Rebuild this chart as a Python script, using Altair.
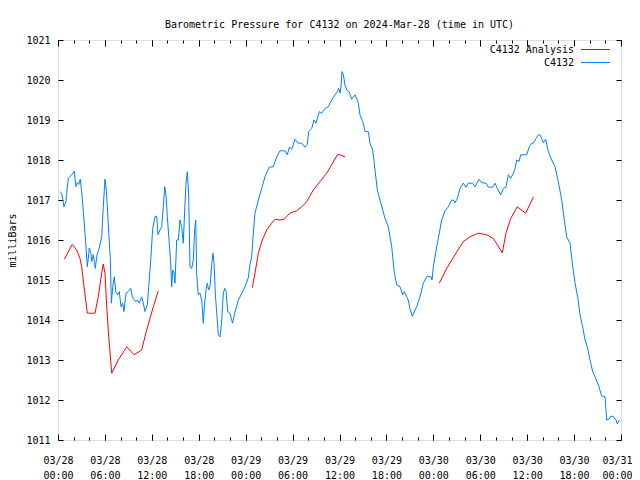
import altair as alt
import pandas as pd

# ---- data (hours after 2024-03-28 00:00 UTC, pressure in mb) ----
station_hours = [0.26, 0.47, 0.77, 1.02, 1.11, 1.32, 1.75, 2.08, 2.30, 2.47, 2.65, 2.85, 3.03, 3.24, 3.49,
                 3.75, 3.88, 4.00, 4.22, 4.31, 4.51, 4.77, 4.99, 5.28, 5.59, 5.79, 6.01, 6.14, 6.31, 6.52,
                 6.69, 6.82, 7.00, 7.20, 7.38, 7.64, 7.84, 8.06, 8.27, 8.44, 8.70, 8.99, 9.30, 9.50, 9.72,
                 9.98, 10.14, 10.40, 10.70, 10.91, 11.13, 11.42, 11.64, 11.86, 12.11, 12.41, 12.62, 12.79,
                 13.04, 13.26, 13.47, 13.65, 13.81, 13.98, 14.20, 14.41, 14.54, 14.67, 14.84, 14.96, 15.18,
                 15.39, 15.60, 15.82, 16.02, 16.20, 16.37, 16.54, 16.72, 16.88, 17.10, 17.30, 17.48, 17.61,
                 17.74, 17.94, 18.16, 18.38, 18.58, 18.71, 18.93, 19.09, 19.27, 19.44, 19.66, 19.82, 19.95,
                 20.12, 20.30, 20.50, 20.72, 20.94, 21.14, 21.32, 21.49, 21.70, 22.00, 22.32, 22.64, 23.06,
                 23.28, 23.49, 23.92, 24.34, 24.56, 24.77, 24.98, 25.19, 25.62, 26.05, 26.47, 27.02, 27.53,
                 27.97, 28.39, 29.03, 29.33, 29.58, 29.89, 30.31, 30.73, 31.17, 31.59, 31.88, 32.06, 32.45,
                 32.74, 33.00, 33.42, 33.72, 34.15, 34.57, 35.00, 35.43, 35.72, 35.90, 36.06, 36.19, 36.32,
                 36.49, 36.70, 36.92, 37.22, 37.56, 37.98, 38.20, 38.41, 38.62, 39.05, 39.26, 39.68, 39.90,
                 40.25, 40.54, 40.84, 41.18, 41.53, 41.82, 42.24, 42.68, 43.01, 43.32, 43.74, 44.08, 44.29,
                 44.59, 44.80, 45.02, 45.31, 45.66, 45.87, 46.08, 46.30, 46.51, 46.72, 46.94, 47.23, 47.70,
                 47.83, 48.00, 48.43, 48.76, 49.07, 49.49, 49.92, 50.35, 50.56, 50.77, 51.07, 51.41, 51.83,
                 52.18, 52.47, 53.04, 53.33, 53.84, 54.19, 54.74, 55.03, 55.59, 55.89, 56.18, 56.62, 56.95,
                 57.29, 57.59, 57.90, 58.23, 58.45, 58.66, 58.96, 59.17, 59.94, 60.27, 60.58, 60.79, 61.13,
                 61.43, 61.64, 61.86, 62.07, 62.37, 62.71, 63.14, 63.56, 63.98, 64.42, 64.75, 65.06, 65.48,
                 65.83, 66.12, 66.46, 66.76, 67.10, 67.40, 67.69, 68.04, 68.38, 68.68, 69.10, 69.53, 69.96,
                 70.17, 70.47, 70.72, 71.02, 71.37, 71.53, 71.79]
station_mb = [1017.21, 1017.17, 1016.83, 1016.96, 1017.17, 1017.54, 1017.63, 1017.72, 1017.33, 1017.43,
              1017.39, 1017.52, 1017.21, 1016.71, 1016.08, 1015.33, 1015.55, 1015.80, 1015.67, 1015.46,
              1015.63, 1015.29, 1015.63, 1015.80, 1016.08, 1016.83, 1017.52, 1017.33, 1016.83, 1016.08,
              1015.54, 1014.42, 1014.83, 1015.08, 1014.71, 1014.63, 1014.71, 1014.33, 1014.42, 1014.21,
              1014.67, 1014.71, 1014.79, 1014.58, 1014.50, 1014.46, 1014.50, 1014.42, 1014.58, 1014.42,
              1014.21, 1014.38, 1014.92, 1015.50, 1016.29, 1016.58, 1016.60, 1016.13, 1016.25, 1016.33,
              1016.83, 1017.33, 1017.13, 1016.58, 1016.00, 1015.42, 1014.83, 1015.25, 1015.17, 1014.92,
              1016.00, 1016.00, 1016.50, 1016.33, 1015.92, 1016.75, 1017.42, 1017.71, 1017.08, 1015.33,
              1015.29, 1015.50, 1016.25, 1016.50, 1015.13, 1014.63, 1014.67, 1014.50, 1013.92, 1014.33,
              1014.75, 1014.92, 1014.75, 1014.83, 1015.38, 1015.67, 1015.42, 1014.67, 1014.17, 1013.63,
              1013.58, 1014.00, 1014.67, 1014.79, 1014.71, 1014.21, 1014.17, 1013.92, 1014.20, 1014.50,
              1014.58, 1014.67, 1014.83, 1015.06, 1015.40, 1015.58, 1016.17, 1016.67, 1017.00, 1017.29,
              1017.58, 1017.82, 1017.83, 1018.08, 1018.23, 1018.23, 1018.13, 1018.32, 1018.27, 1018.52,
              1018.42, 1018.42, 1018.32, 1018.38, 1018.71, 1018.79, 1019.00, 1018.92, 1019.21, 1019.17,
              1019.29, 1019.33, 1019.50, 1019.63, 1019.71, 1019.79, 1019.67, 1019.83, 1020.21, 1020.13,
              1019.88, 1019.75, 1019.71, 1019.52, 1019.63, 1019.54, 1019.42, 1019.13, 1018.92, 1018.71,
              1018.71, 1018.42, 1018.25, 1017.75, 1017.25, 1017.00, 1016.75, 1016.54, 1016.33, 1015.83,
              1015.17, 1014.88, 1014.83, 1014.63, 1014.71, 1014.58, 1014.50, 1014.27, 1014.09, 1014.25,
              1014.33, 1014.46, 1014.58, 1014.75, 1014.92, 1015.00, 1015.10, 1015.08, 1015.00, 1015.33,
              1015.83, 1016.17, 1016.50, 1016.73, 1016.83, 1017.00, 1017.00, 1016.93, 1017.04, 1017.29,
              1017.42, 1017.32, 1017.42, 1017.42, 1017.33, 1017.52, 1017.43, 1017.42, 1017.32, 1017.32,
              1017.42, 1017.29, 1017.13, 1017.29, 1017.33, 1017.63, 1017.54, 1017.67, 1017.79, 1018.00,
              1017.96, 1018.13, 1018.13, 1018.33, 1018.42, 1018.42, 1018.54, 1018.63, 1018.63, 1018.54,
              1018.43, 1018.52, 1018.21, 1018.00, 1017.83, 1017.46, 1017.00, 1016.50, 1016.08, 1015.92,
              1015.33, 1014.92, 1014.58, 1014.13, 1013.83, 1013.50, 1013.33, 1013.00, 1012.71, 1012.58,
              1012.38, 1012.10, 1012.08, 1011.50, 1011.52, 1011.60, 1011.58, 1011.50, 1011.40, 1011.50]

analysis_run = [1] * 22 + [2] * 20 + [3] * 15
analysis_hours = [0.81, 1.83, 2.39, 2.81, 3.03, 3.33, 3.75, 4.73, 5.15, 5.59, 5.79, 6.01, 6.23, 6.52, 6.87,
                  7.71, 8.79, 9.72, 10.70, 11.34, 12.19, 12.83,
                  24.85, 25.19, 25.62, 26.13, 26.69, 27.33, 27.75, 28.39, 28.90, 29.67, 30.53, 31.17, 31.81,
                  32.65, 33.51, 34.36, 35.00, 35.72, 36.06, 36.70,
                  48.76, 49.71, 50.77, 51.83, 52.69, 53.75, 54.83, 55.67, 56.18, 56.82, 57.29, 57.90, 58.74,
                  59.81, 60.79]
analysis_mb = [1015.52, 1015.89, 1015.75, 1015.54, 1015.33, 1014.83, 1014.17, 1014.17, 1014.58, 1015.17,
               1015.40, 1015.17, 1014.33, 1013.50, 1012.67, 1013.00, 1013.33, 1013.13, 1013.25, 1013.75,
               1014.33, 1014.73,
               1014.81, 1015.17, 1015.67, 1016.00, 1016.25, 1016.42, 1016.52, 1016.50, 1016.52, 1016.67,
               1016.73, 1016.83, 1016.96, 1017.25, 1017.46, 1017.67, 1017.88, 1018.13, 1018.13, 1018.08,
               1014.92, 1015.29, 1015.63, 1015.96, 1016.08, 1016.17, 1016.13, 1016.04, 1015.88, 1015.68,
               1016.17, 1016.54, 1016.83, 1016.67, 1017.07]

series_names = ["C4132 Analysis", "C4132"]
series_colors = ["#ff0000", "#0080ff"]
x_major_ticks = list(range(0, 73, 6))
x_minor_ticks = list(range(0, 73, 2))
y_ticks = list(range(1011, 1022))

FONT = "DejaVu Sans Mono"
W, H = 563, 400

rows = []
for h, v in zip(station_hours, station_mb):
    rows.append({"series": "C4132", "run": "s", "hours": h, "mb": v})
for r, h, v in zip(analysis_run, analysis_hours, analysis_mb):
    rows.append({"series": "C4132 Analysis", "run": f"a{r}", "hours": h, "mb": v})
df = pd.DataFrame(rows)

xscale = alt.Scale(domain=[0, 72], nice=False, zero=False)
yscale = alt.Scale(domain=[1011, 1021], nice=False, zero=False)

label_expr = ("['03/' + (28 + floor(datum.value / 24)), "
              "(datum.value % 24 < 10 ? '0' : '') + (datum.value % 24) + ':00']")

lines = alt.Chart(df).mark_line(strokeWidth=1).encode(
    x=alt.X("hours:Q", scale=xscale, title=None,
            axis=alt.Axis(orient="bottom", values=x_major_ticks, ticks=False, domain=False, grid=False,
                          labelExpr=label_expr, labelFont=FONT, labelFontSize=10, labelColor="black",
                          labelPadding=15, labelLineHeight=15, labelBaseline="top", labelFlush=False,
                          labelOverlap=False,
                          labelOffset=alt.condition("datum.value >= 72", alt.value(-4), alt.value(0)))),
    y=alt.Y("mb:Q", scale=yscale, title="milliBars",
            axis=alt.Axis(orient="left", values=y_ticks, ticks=False, domain=False, grid=False,
                          format="d", labelFont=FONT, labelFontSize=10, labelColor="black",
                          labelPadding=8, labelFlush=False, labelOverlap=False,
                          titleFont=FONT, titleFontSize=10, titleFontWeight="normal", titleColor="black",
                          titleX=-45.5, titleY=H / 2, titleAngle=270, titleAlign="center",
                          titleBaseline="middle")),
    color=alt.Color("series:N", scale=alt.Scale(domain=series_names, range=series_colors), legend=None),
    detail="run:N",
)


def tick_layer(x_orient, x_values, x_size, y_orient=None):
    enc = {
        "x": alt.X("hours:Q", scale=xscale, title=None,
                   axis=alt.Axis(orient=x_orient, offset=-H, values=x_values, tickSize=x_size,
                                 tickColor="black", tickWidth=1, labels=False, domain=False, grid=False)),
    }
    if y_orient is not None:
        enc["y"] = alt.Y("mb:Q", scale=yscale, title=None,
                         axis=alt.Axis(orient=y_orient, offset=-W, values=y_ticks, tickSize=5,
                                       tickColor="black", tickWidth=1, labels=False, domain=False,
                                       grid=False))
    else:
        enc["y"] = alt.Y("mb:Q", scale=yscale, axis=None)
    return alt.Chart(df).mark_line(strokeOpacity=0).encode(**enc)


ticks_a = tick_layer("top", x_major_ticks, 6, "right")
ticks_b = tick_layer("bottom", x_major_ticks, 6, "left")
ticks_c = tick_layer("top", x_minor_ticks, 3)
ticks_d = tick_layer("bottom", x_minor_ticks, 3)

# legend (gnuplot style: label left of the sample line)
leg_layers = []
for name, color, ly in zip(series_names, series_colors, [9.5, 22.5]):
    src = pd.DataFrame({"label": [name]})
    leg_layers.append(alt.Chart(src).mark_text(align="right", baseline="middle", font=FONT, fontSize=10,
                                               color="black").encode(
        x=alt.value(516), y=alt.value(ly), text="label:N"))
    leg_layers.append(alt.Chart(src).mark_rule(color=color, strokeWidth=1).encode(
        x=alt.value(523), x2=alt.value(552), y=alt.value(ly)))

chart = alt.layer(lines, ticks_a, ticks_b, ticks_c, ticks_d, *leg_layers).resolve_axis(
    x="independent", y="independent"
).properties(
    width=W, height=H,
    title=alt.TitleParams(text="Barometric Pressure for C4132 on 2024-Mar-28 (time in UTC)",
                          font=FONT, fontSize=10, fontWeight="normal", color="black",
                          anchor="middle", baseline="alphabetic", offset=12, dy=15),
    autosize=alt.AutoSizeParams(type="none"),
    padding={"left": 50, "top": 32, "right": 11, "bottom": 40},
).configure_view(stroke="black", strokeWidth=1).configure(background="white")

chart.save("out.html", embed_options={"renderer": "svg", "actions": False})
